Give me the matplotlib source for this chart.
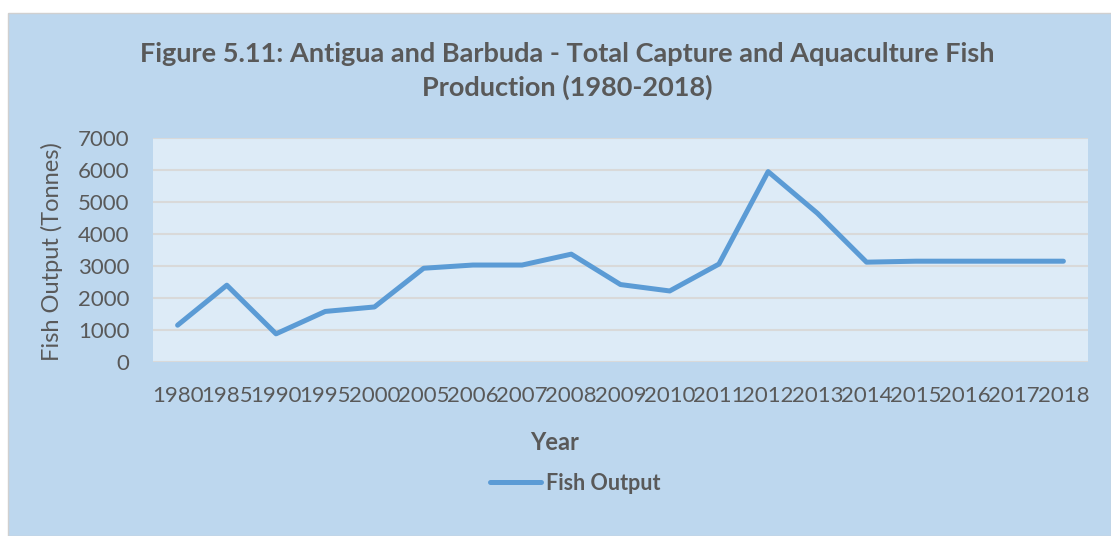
import matplotlib
matplotlib.use('Agg')
import matplotlib.pyplot as plt
from matplotlib.patches import Rectangle

# Datos
anios = ['1980', '1985', '1990', '1995', '2000', '2005', '2006', '2007', '2008', '2009',
         '2010', '2011', '2012', '2013', '2014', '2015', '2016', '2017', '2018']
produccion = [1150, 2400, 880, 1580, 1720, 2930, 3030, 3030, 3370, 2420,
              2220, 3060, 5950, 4650, 3120, 3150, 3150, 3150, 3150]
ticks_y = [0, 1000, 2000, 3000, 4000, 5000, 6000, 7000]

gris_texto = '#595959'
plt.rcParams['font.family'] = ['Lato', 'DejaVu Sans']

W, H = 1111, 536
fig = plt.figure(figsize=(W / 100, H / 100), dpi=100)
fig.patch.set_facecolor('white')

# Fondo del area del grafico
fig.patches.append(Rectangle((8 / W, 0), 1 - 8 / W, 1 - 13 / H, transform=fig.transFigure,
                             facecolor='#BDD7EE', edgecolor='#D0D0D0', linewidth=1, zorder=-1))

ax = fig.add_axes([153 / W, (H - 362) / H, 935 / W, 224 / H])
ax.set_zorder(2)
ax.set_facecolor('#DDEBF7')
x = range(len(anios))
ax.plot(x, produccion, color='#5B9BD5', linewidth=3.6, solid_capstyle='round',
        solid_joinstyle='round', label='Fish Output', zorder=3)

ax.set_xlim(-0.5, len(anios) - 0.5)
ax.set_ylim(0, 7000)
ax.set_yticks(ticks_y)
ax.set_yticklabels([str(t) for t in ticks_y])
ax.set_xticks(list(x))
ax.set_xticklabels(anios)
ax.grid(axis='y', color='#D9D9D9', linewidth=1.5, zorder=1)
ax.set_axisbelow(True)
for s in ax.spines.values():
    s.set_visible(False)
ax.tick_params(axis='both', length=0, colors=gris_texto, labelsize=16)
ax.tick_params(axis='x', pad=17)
ax.tick_params(axis='y', pad=17)

fig.text(52 / W, 1 - 252 / H, 'Fish Output (Tonnes)', rotation=90, ha='center', va='center',
         color=gris_texto, fontsize=17)

fig.text(567 / W, 1 - 71 / H, 'Figure 5.11: Antigua and Barbuda - Total Capture and Aquaculture Fish\nProduction (1980-2018)',
         ha='center', va='center', fontsize=19.5, fontweight='bold', color=gris_texto, linespacing=1.45)

fig.text(555 / W, 1 - 442 / H, 'Year', ha='center', va='center', fontsize=17,
         fontweight='bold', color=gris_texto)

leg = fig.legend(loc='center', bbox_to_anchor=(575 / W, 1 - 483 / H), frameon=False,
                 prop={'size': 15.5, 'weight': 'bold'}, handlelength=2.4, handletextpad=0.2)
for t in leg.get_texts():
    t.set_color(gris_texto)

fig.savefig('out.png', dpi=100, facecolor=fig.get_facecolor())
